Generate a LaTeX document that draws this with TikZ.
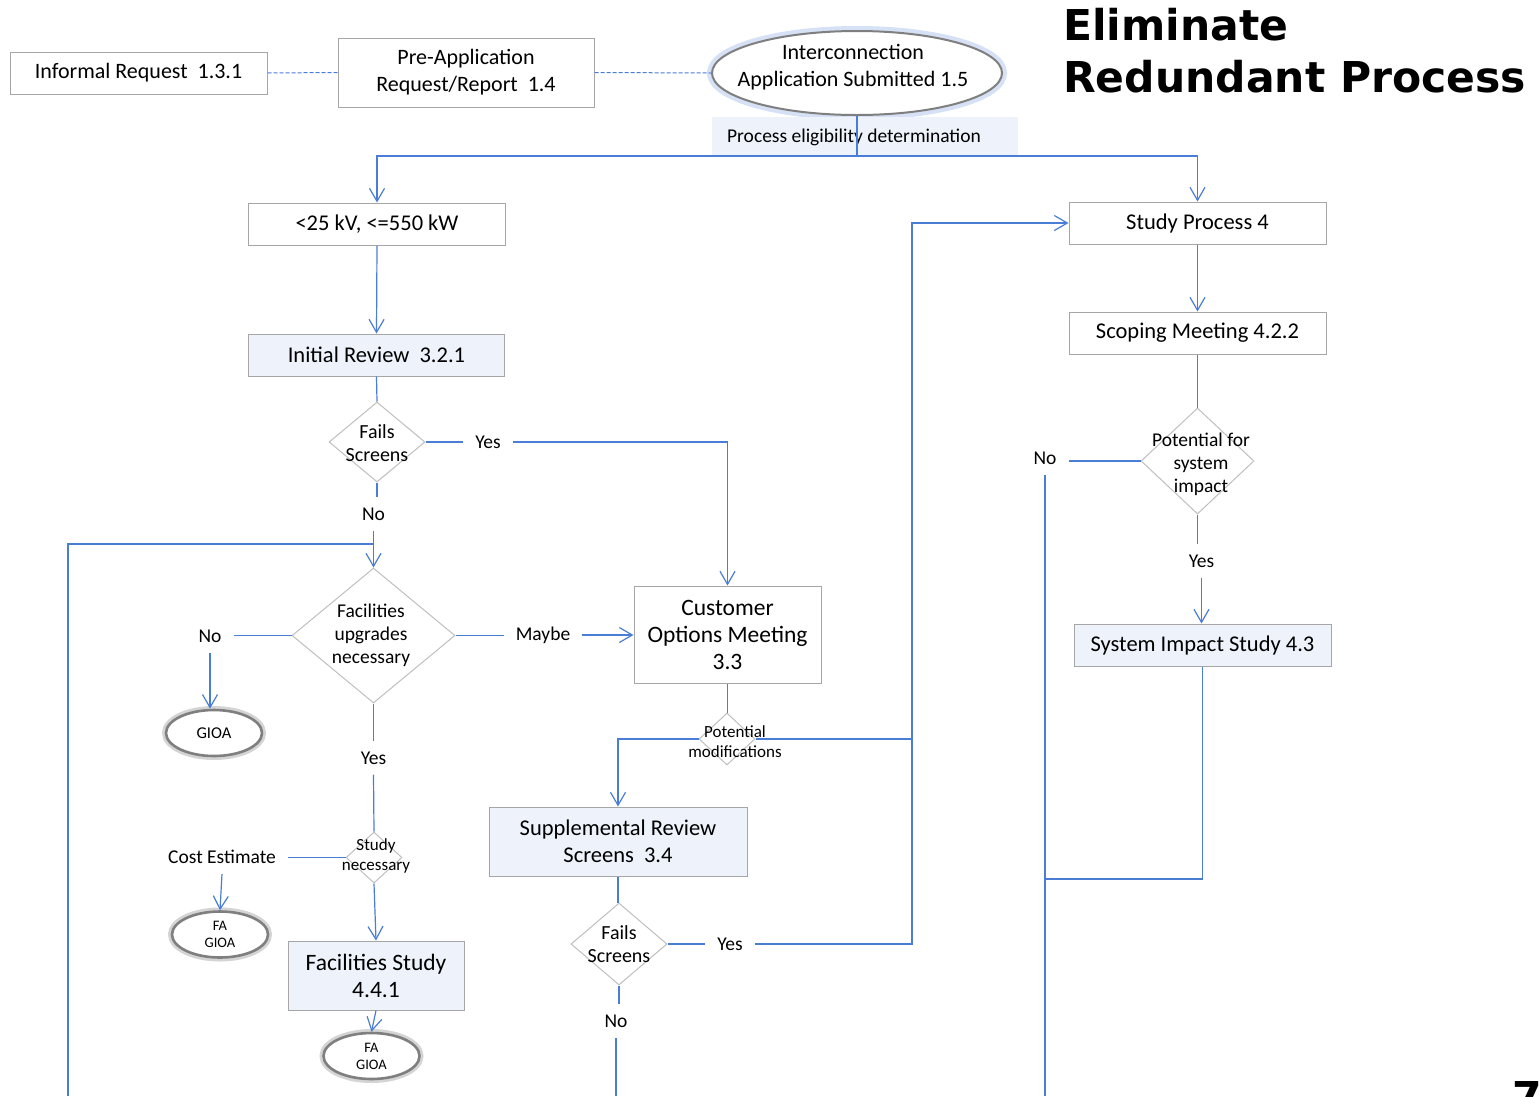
\documentclass[tikz,border=0pt]{standalone}
\usepackage{fontspec}
\setmainfont{Carlito}
\newfontfamily\titlefont{DejaVu Sans}
\usetikzlibrary{shapes.geometric,arrows.meta}
\definecolor{lnblue}{HTML}{4A7DD6}
\definecolor{boxgray}{HTML}{A6A6A6}
\definecolor{diagray}{HTML}{BFBFBF}
\definecolor{lightfill}{HTML}{EEF3FB}
\definecolor{termgray}{HTML}{7F7F7F}
\definecolor{glowblue}{HTML}{D6E1F5}
\begin{document}
\begin{tikzpicture}[x=1pt,y=-1pt,
  box/.style={draw=boxgray, line width=1pt, fill=white, inner sep=0pt, align=center, font=\fontsize{22.5}{27}\selectfont},
  bbox/.style={box, fill=lightfill},
  dia/.style={diamond, draw=diagray, line width=1pt, fill=white, inner sep=0pt},
  dtext/.style={align=center, inner sep=0pt, font=\fontsize{19.5}{23}\selectfont},
  conn/.style={draw=lnblue, line width=1.2pt},
  arr/.style={conn, -{Straight Barb[length=13pt,width=15pt]}},
  dashc/.style={draw=lnblue, line width=1pt, dash pattern=on 4pt off 2pt},
  lbl/.style={inner xsep=12pt, inner ysep=10pt, font=\fontsize{19.5}{22}\selectfont},
  term/.style={ellipse, draw=termgray, line width=2.6pt, fill=white, inner sep=0pt,
    preaction={draw=black!17, line width=8pt}, align=center,
    minimum width=96pt, minimum height=46pt},
  ttl/.style={anchor=base west, inner sep=0pt, font=\titlefont\bfseries\fontsize{42.5}{52}\selectfont}
]
\useasboundingbox (0,0) rectangle (1540,1096);
\fill[white] (0,0) rectangle (1540,1096);

% title
\node[ttl] (t1) at (1063,40) {Eliminate};
\node[ttl] (t2) at (1063,92) {Redundant Process};
\node[ttl] (pgno) at (1512,1112) {7};

% top row
\node[box, minimum width=257pt, minimum height=42pt, font=\fontsize{22}{27}\selectfont] (ir) at (138.5,73) {Informal Request\ \ 1.3.1};
\node[box, minimum width=256pt, minimum height=69pt, font=\fontsize{22}{27}\selectfont] (pa) at (466,72.5) {Pre-Application\\Request/Report\ \ 1.4};
\node[ellipse, draw=termgray, line width=2pt, fill=white, preaction={draw=glowblue, line width=10pt},
  minimum width=290pt, minimum height=84pt, inner sep=0pt] (ia) at (857,73) {};
\node[inner sep=0pt, align=center, font=\fontsize{22}{27}\selectfont] (iat) at (853,67) {Interconnection\\Application Submitted 1.5};
\node[fill=lightfill, minimum width=306pt, minimum height=38pt, inner sep=0pt] (pedbox) at (865,136) {};
\node[inner sep=0pt, font=\fontsize{19.5}{22}\selectfont] (ped) at (854,137) {Process eligibility determination};

% left branch
\node[box, minimum width=257pt, minimum height=42pt] (lv) at (377,224) {<25 kV, <=550 kW};
\node[bbox, minimum width=256pt, minimum height=42pt] (irv) at (376.5,355) {Initial Review\ \ 3.2.1};
\node[dia, minimum width=96pt, minimum height=80pt] (fs1) at (377,442) {};
\node[dtext, font=\fontsize{20}{23}\selectfont] (fs1t) at (377,443) {Fails\\Screens};
\node[lbl] (yes1) at (488,442) {Yes};
\node[lbl] (no1) at (373.5,514) {No};
\node[dia, minimum width=163pt, minimum height=135pt] (fud) at (373.5,635.5) {};
\node[dtext] (fudt) at (371,635) {Facilities\\upgrades\\necessary};
\node[lbl] (no2) at (210,636) {No};
\node[lbl] (maybe) at (543,635) {Maybe};
\node[term, font=\fontsize{16.5}{17}\selectfont] (gioa) at (214,733) {GIOA};
\node[lbl] (yes2) at (373.5,758) {Yes};
\node[dia, minimum width=56pt, minimum height=51pt] (sn) at (374,857.5) {};
\node[dtext, font=\fontsize{17}{20}\selectfont] (snt) at (376,856) {Study\\necessary};
\node[lbl] (ce) at (222,857) {Cost Estimate};
\node[term, font=\fontsize{14.5}{17}\selectfont] (fa1) at (220,934.5) {FA\\GIOA};
\node[bbox, minimum width=176pt, minimum height=69pt, font=\fontsize{23.5}{27}\selectfont] (fst) at (376,975.5) {Facilities Study\\4.4.1};
\node[term, font=\fontsize{14.5}{17}\selectfont] (fa2) at (371.5,1056) {FA\\GIOA};

% middle branch
\node[box, minimum width=187pt, minimum height=97pt, font=\fontsize{23.5}{27}\selectfont] (com) at (727.5,634.5) {Customer\\Options Meeting\\3.3};
\node[dia, minimum width=56pt, minimum height=52pt] (pm) at (727,739) {};
\node[dtext, font=\fontsize{17}{20}\selectfont] (pmt) at (735,742) {Potential\\modifications};
\node[bbox, minimum width=258pt, minimum height=69pt] (sr) at (618,841.5) {Supplemental Review\\Screens\ \ 3.4};
\node[dia, minimum width=96pt, minimum height=82pt] (fs2) at (619,944) {};
\node[dtext, font=\fontsize{20}{23}\selectfont] (fs2t) at (619,944.5) {Fails\\Screens};
\node[lbl] (yes3) at (730,944) {Yes};
\node[lbl] (no4) at (616,1021) {No};

% right branch
\node[box, minimum width=257pt, minimum height=42pt] (sp) at (1197.5,223) {Study Process 4};
\node[box, minimum width=257pt, minimum height=42pt] (sm) at (1197.5,333) {Scoping Meeting 4.2.2};
\node[dia, minimum width=113pt, minimum height=106pt] (psi) at (1197.5,461) {};
\node[dtext] (psit) at (1201,464) {Potential for\\system\\impact};
\node[lbl] (no3) at (1045,458) {No};
\node[lbl] (yes4) at (1201.5,561) {Yes};
\node[bbox, minimum width=257pt, minimum height=42pt] (sis) at (1202.5,645) {System Impact Study 4.3};

% coordinates
\coordinate (jn) at (857,156);
\coordinate (fb) at (68,1096);
\coordinate (fbT) at (373.5,544);
\coordinate (cR) at (912,600);
\coordinate (b4) at (616,1096);
\coordinate (b3) at (1045,1096);
\coordinate (cB) at (1045,879);

% connectors
\draw[dashc] (ir.east) -- (pa.west);
\draw[dashc] (pa.east) -- (ia.west);
\draw[conn] (ia.south) -- (jn);
\draw[arr] (jn) -| (lv.north);
\draw[arr] (jn) -| (sp.north);
\draw[arr] (lv.south) -- (irv.north);
\draw[conn] (irv.south) -- (fs1.north);
\draw[conn] (fs1.east) -- (fs1.east -| yes1.west);
\draw[arr] (yes1.east) -| (com.north);
\draw[conn] (fs1.south) -- (fs1.south |- no1.north);
\draw[arr] (no1.south) -- (fud.north);
\draw[conn] (fb) |- (fbT);
\draw[conn] (fud.west) -- (fud.west -| no2.east);
\draw[arr] (no2.south) -- (no2.south |- gioa.north);
\draw[conn] (fud.east) -- (fud.east -| maybe.west);
\draw[arr] (maybe.east) -- (maybe.east -| com.west);
\draw[conn] (fud.south) -- (yes2.north);
\draw[conn] (yes2.south) -- (sn.north);
\draw[conn] (sn.west) -- (sn.west -| ce.east);
\draw[arr] (ce.south) -- (fa1.north);
\draw[arr] (sn.south) -- (fst.north);
\draw[arr] (fst.south) -- (fa2.north);
\draw[conn] (com.south) -- (com.south |- pm.north);
\draw[arr] (pm.west) -| (sr.north);
\draw[conn] (pm.east) -- (pm.east -| cR);
\draw[conn] (sr.south) -- (sr.south |- fs2.north);
\draw[conn] (fs2.east) -- (fs2.east -| yes3.west);
\draw[arr] (yes3.east) -| (cR) |- (sp.west);
\draw[conn] (fs2.south) -- (fs2.south |- no4.north);
\draw[conn] (no4.south) -- (b4);
\draw[arr] (sp.south) -- (sm.north);
\draw[conn] (sm.south) -- (sm.south |- psi.north);
\draw[conn] (psi.west) -- (psi.west -| no3.east);
\draw[conn] (no3.south) -- (no3.south |- b3);
\draw[conn] (psi.south) -- (psi.south |- yes4.north);
\draw[arr] (yes4.south) -- (yes4.south |- sis.north);
\draw[conn] (sis.south) |- (cB) -- (b3);
\end{tikzpicture}
\end{document}
